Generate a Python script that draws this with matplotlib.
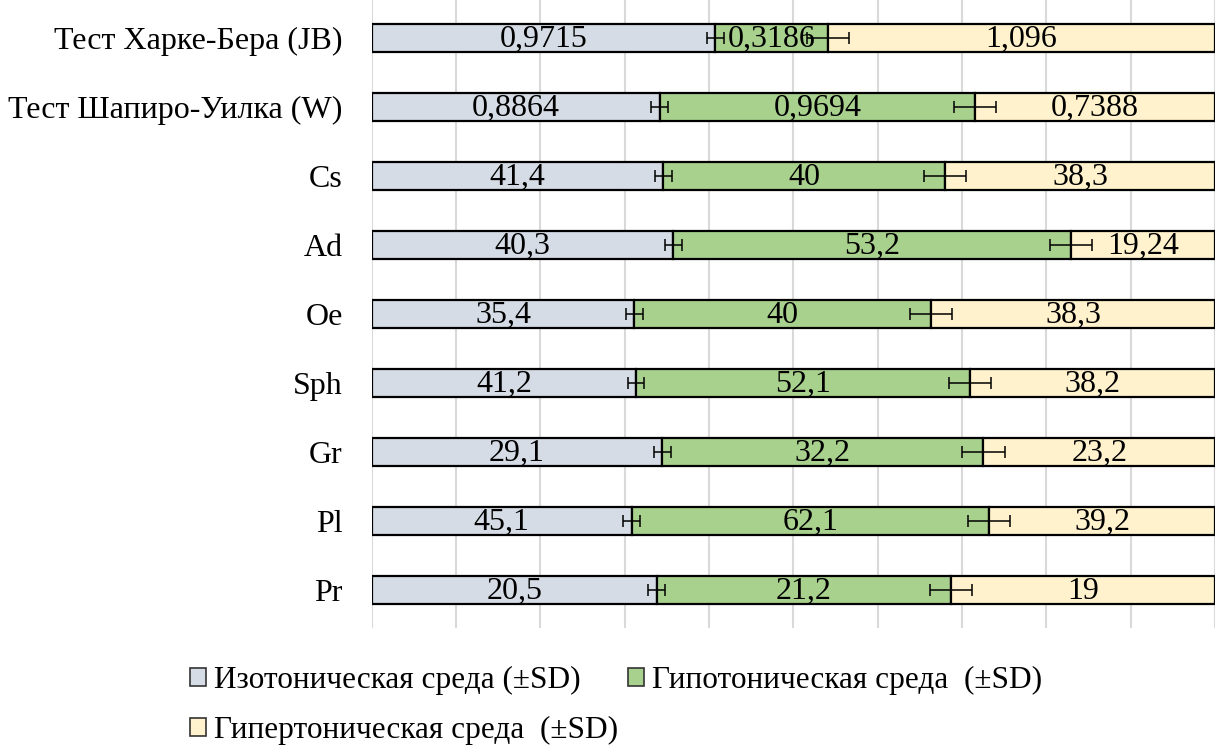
import matplotlib
matplotlib.use('Agg')
from matplotlib import pyplot as plt
import numpy as np

plt.rcParams['font.family'] = ['Liberation Serif', 'DejaVu Serif']

categories = ['Тест Харке-Бера (JB)', 'Тест Шапиро-Уилка (W)', 'Cs', 'Ad', 'Oe',
              'Sph', 'Gr', 'Pl', 'Pr']
iso = [0.9715, 0.8864, 41.4, 40.3, 35.4, 41.2, 29.1, 45.1, 20.5]
hypo = [0.3186, 0.9694, 40, 53.2, 40, 52.1, 32.2, 62.1, 21.2]
hyper = [1.096, 0.7388, 38.3, 19.24, 38.3, 38.2, 23.2, 39.2, 19]
# SD shown as error bars, in percent of the row
iso_sd = [1.0, 1.0, 1.0, 1.0, 1.0, 1.0, 1.0, 1.0, 1.0]
hypo_sd = [2.5, 2.5, 2.5, 2.5, 2.5, 2.5, 2.5, 2.5, 2.5]

series_names = ['Изотоническая среда (±SD)', 'Гипотоническая среда  (±SD)',
                'Гипертоническая среда  (±SD)']
colors = ['#d6dce5', '#a9d18e', '#fff2cc']

raw = np.array([iso, hypo, hyper], dtype=float)
pct = raw / raw.sum(axis=0) * 100
y = np.arange(len(categories))

fig = plt.figure(figsize=(12.19, 7.51), dpi=100)
ax = fig.add_axes([0.305, 0.164, 0.6917, 0.836])

left = np.zeros(len(categories))
bars = []
for i in range(3):
    b = ax.barh(y, pct[i], left=left, height=0.406, color=colors[i],
                edgecolor='black', linewidth=1.6, label=series_names[i], zorder=2)
    bars.append(b)
    for j in range(len(categories)):
        txt = f"{raw[i, j]:g}".replace('.', ',')
        ax.text(left[j] + pct[i, j] / 2, y[j] + 0.02, txt, ha='center', va='center',
                fontsize=23, zorder=4)
    left = left + pct[i]

ends1 = pct[0]
ends2 = pct[0] + pct[1]
ax.errorbar(ends1, y, xerr=iso_sd, fmt='none', ecolor='black', elinewidth=1.1,
            capsize=4, capthick=1.1, zorder=3)
ax.errorbar(ends2, y, xerr=hypo_sd, fmt='none', ecolor='black', elinewidth=1.1,
            capsize=4, capthick=1.1, zorder=3)

ax.set_xlim(0, 100)
ax.set_ylim(8.55, -0.55)
ax.set_xticks(np.arange(0, 101, 10))
ax.set_xticklabels([])
ax.set_yticks(y)
ax.set_yticklabels(categories, fontsize=23)
ax.tick_params(axis='both', length=0)
ax.tick_params(axis='y', pad=21)
ax.grid(axis='x', color='#d9d9d9', linewidth=1.5, zorder=0)
ax.set_axisbelow(True)
for s in ax.spines.values():
    s.set_visible(False)

# reorder so the legend reads row by row
handles = [bars[0], bars[2], bars[1]]
labels = [series_names[0], series_names[2], series_names[1]]
leg = fig.legend(handles, labels, loc='center', bbox_to_anchor=(0.5053, 0.0606), ncol=2,
                 frameon=False, fontsize=22.5, handlelength=0.51, handleheight=0.51,
                 handletextpad=0.26, columnspacing=0.32, labelspacing=0.68)
for h in leg.legend_handles:
    h.set_linewidth(1.2)
    h.set_edgecolor('#333333')

fig.savefig('out.png', dpi=100)
